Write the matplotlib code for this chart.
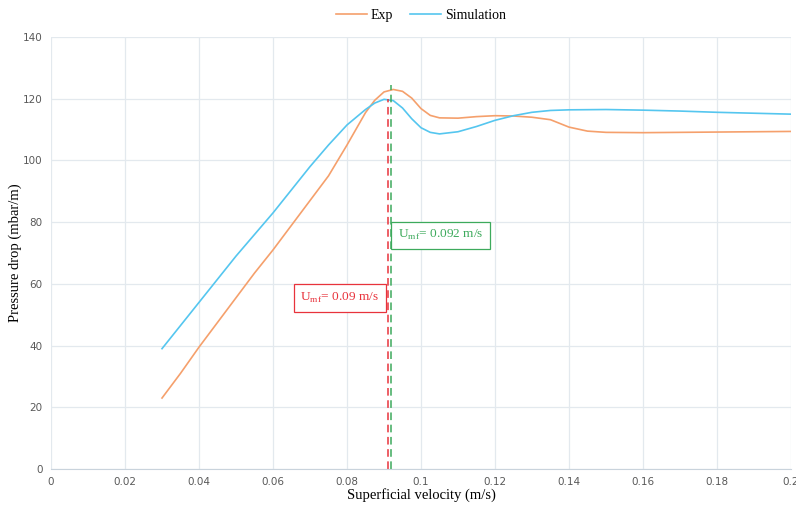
import matplotlib.pyplot as plt

# values
exp_x = [0.03, 0.035, 0.04, 0.045, 0.05, 0.055, 0.06, 0.065, 0.07, 0.075, 0.08,
         0.085, 0.0875, 0.09, 0.0925, 0.095, 0.0975, 0.1, 0.1025, 0.105, 0.11, 0.115,
         0.12, 0.125, 0.13, 0.135, 0.14, 0.145, 0.15, 0.16, 0.17, 0.18, 0.19, 0.2]
exp_y = [23, 31, 39.5, 47.5, 55.5, 63.5, 71, 79, 87, 95, 105,
         115.5, 119.5, 122.2, 123, 122.4, 120.2, 116.8, 114.6, 113.8, 113.7, 114.2,
         114.5, 114.4, 114, 113.2, 110.8, 109.5, 109.1, 109, 109.1, 109.2, 109.3, 109.4]

sim_x = [0.03, 0.035, 0.04, 0.045, 0.05, 0.055, 0.06, 0.065, 0.07, 0.075, 0.08,
         0.085, 0.0875, 0.09, 0.0925, 0.095, 0.0975, 0.1, 0.1025, 0.105, 0.11, 0.115,
         0.12, 0.125, 0.13, 0.135, 0.14, 0.15, 0.16, 0.17, 0.18, 0.19, 0.2]
sim_y = [39, 46.5, 54, 61.5, 69, 76, 83, 90.5, 98, 105, 111.5,
         116.5, 118.6, 119.8, 119.4, 117, 113.5, 110.6, 109.1, 108.6, 109.3, 111,
         113, 114.5, 115.6, 116.2, 116.4, 116.5, 116.3, 116, 115.6, 115.3, 115]

umf_exp = 0.091
umf_exp_top = 120
umf_sim = 0.092
umf_sim_top = 124.5

xticks = [0, 0.02, 0.04, 0.06, 0.08, 0.1, 0.12, 0.14, 0.16, 0.18, 0.2]
xtick_labels = ['0', '0.02', '0.04', '0.06', '0.08', '0.1', '0.12', '0.14', '0.16', '0.18', '0.2']
yticks = [0, 20, 40, 60, 80, 100, 120, 140]

orange = '#f5a06c'
blue = '#55c6ef'
red = '#e8333c'
green = '#3daa5c'
serif = ['Liberation Serif', 'DejaVu Serif']

fig = plt.figure(figsize=(7.96, 5.05), dpi=100)
ax = fig.add_axes([0.0641, 0.0713, 0.9296, 0.8554])

ax.plot(exp_x, exp_y, color=orange, lw=1.2, label='Exp')
ax.plot(sim_x, sim_y, color=blue, lw=1.2, label='Simulation')

ax.plot([umf_exp, umf_exp], [0, umf_exp_top], color=red, lw=1.1, ls=(0, (5, 3)))
ax.plot([umf_sim, umf_sim], [0, umf_sim_top], color=green, lw=1.1, ls=(0, (5, 3)))

ax.text(0.0887, 55.4, r'U$_{\mathregular{mf}}$= 0.09 m/s', color=red, fontsize=9.6,
        family=serif, ha='right', va='center',
        bbox=dict(boxstyle='square,pad=0.5', fc='white', ec=red, lw=0.9))
ax.text(0.0937, 75.7, r'U$_{\mathregular{mf}}$= 0.092 m/s', color=green, fontsize=9.6,
        family=serif, ha='left', va='center',
        bbox=dict(boxstyle='square,pad=0.5', fc='white', ec=green, lw=0.9))

ax.set_xlim(0, 0.2)
ax.set_ylim(0, 140)
ax.set_xticks(xticks)
ax.set_xticklabels(xtick_labels)
ax.set_yticks(yticks)
ax.tick_params(length=0, labelsize=7.5, labelcolor='#595959')
ax.tick_params(axis='x', pad=6)
ax.tick_params(axis='y', pad=6)
ax.grid(True, color='#e3e9ee', lw=0.9)
ax.set_axisbelow(True)
for s in ['top', 'right', 'left']:
    ax.spines[s].set_visible(False)
ax.spines['bottom'].set_color('#c9d3dc')

ax.set_xlabel('Superficial velocity (m/s)', family=serif, fontsize=10.5)
ax.set_ylabel('Pressure drop (mbar/m)', family=serif, fontsize=10.5)
ax.xaxis.set_label_coords(0.5, -0.06)
ax.yaxis.set_label_coords(-0.049, 0.5)
ax.xaxis.label.set_va('center')
ax.yaxis.label.set_va('center')

ax.legend(loc='lower center', bbox_to_anchor=(0.5, 1.018), ncol=2, frameon=False,
          prop={'family': serif, 'size': 10}, handlelength=2.2, columnspacing=1.2,
          handletextpad=0.3, borderaxespad=0.1)

fig.savefig('out.png', dpi=100)
